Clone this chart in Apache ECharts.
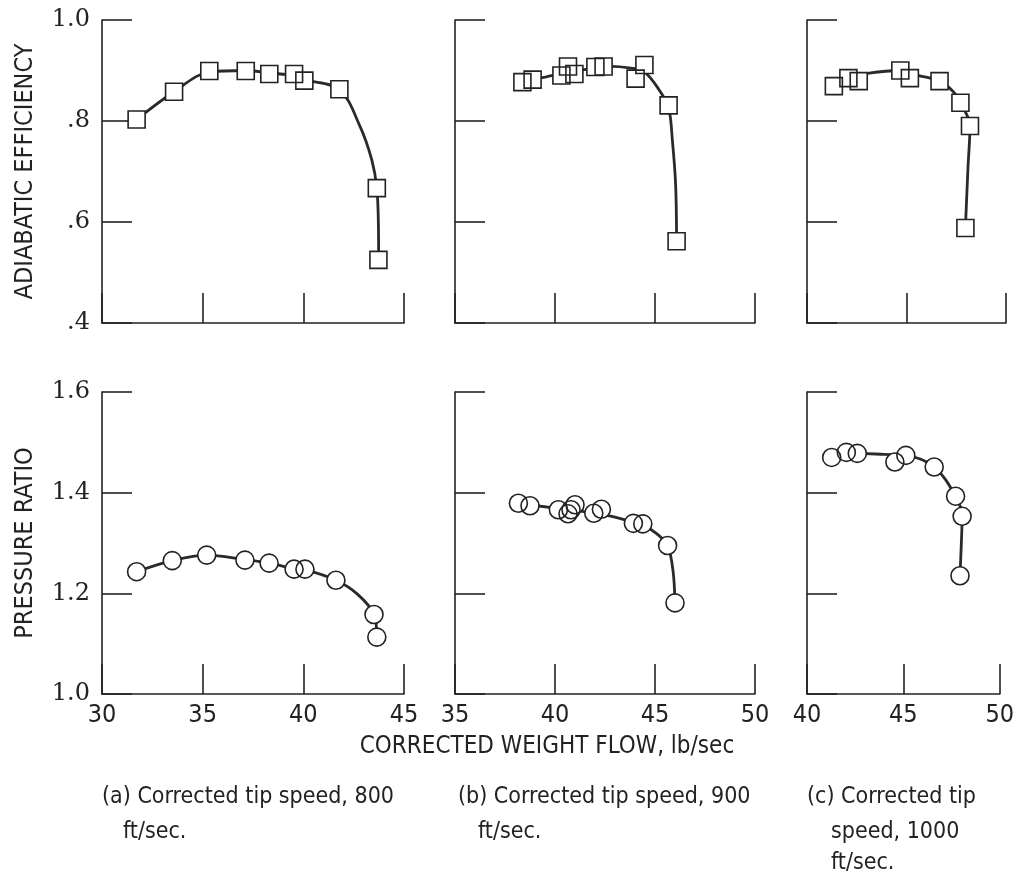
<!DOCTYPE html>
<html>
<head>
<meta charset="utf-8">
<script src="https://cdn.jsdelivr.net/npm/echarts@6/dist/echarts.min.js"></script>
<style>
html,body{margin:0;padding:0;background:#fff;}
#chart{width:1017px;height:877px;}
</style>
</head>
<body>
<div id="chart"></div>
<script>
// ---- measured points ----
const effAX = [31.72, 33.58, 35.33, 37.14, 38.31, 39.54, 40.05, 41.79, 43.65, 43.73];
const effAY = [0.803, 0.858, 0.899, 0.899, 0.893, 0.893, 0.880, 0.863, 0.667, 0.525];
const effBX = [38.37, 38.88, 40.32, 40.65, 40.97, 42.02, 42.43, 44.03, 44.47, 45.68, 46.08];
const effBY = [0.877, 0.882, 0.890, 0.908, 0.893, 0.907, 0.908, 0.884, 0.911, 0.831, 0.562];
const effCX = [41.35, 42.08, 42.60, 44.69, 45.17, 46.66, 47.71, 48.19, 47.96];
const effCY = [0.869, 0.885, 0.879, 0.900, 0.885, 0.879, 0.836, 0.790, 0.588];

const prAX = [31.72, 33.49, 35.20, 37.10, 38.30, 39.54, 40.08, 41.62, 43.51, 43.65];
const prAY = [1.243, 1.265, 1.276, 1.266, 1.260, 1.248, 1.248, 1.226, 1.158, 1.113];
const prBX = [38.17, 38.75, 40.17, 40.65, 40.80, 41.00, 41.94, 42.32, 43.92, 44.39, 45.63, 46.00];
const prBY = [1.379, 1.374, 1.366, 1.358, 1.366, 1.376, 1.359, 1.367, 1.339, 1.338, 1.295, 1.181];
const prCX = [41.28, 42.04, 42.61, 44.56, 45.13, 46.60, 47.71, 48.05, 47.94];
const prCY = [1.470, 1.480, 1.478, 1.461, 1.474, 1.451, 1.393, 1.353, 1.235];

// ---- faired curves ----
const curveEffAX = [31.72, 33.58, 35.33, 37.14, 38.31, 39.54, 40.05, 41.79, 42.82, 43.40, 43.65, 43.73, 43.74];
const curveEffAY = [0.803, 0.858, 0.897, 0.900, 0.895, 0.890, 0.882, 0.862, 0.789, 0.723, 0.667, 0.590, 0.525];
const curveEffBX = [38.37, 39.50, 40.80, 42.00, 42.83, 43.70, 44.45, 45.20, 45.68, 45.87, 46.03, 46.08];
const curveEffBY = [0.879, 0.887, 0.897, 0.905, 0.908, 0.905, 0.898, 0.862, 0.826, 0.761, 0.675, 0.562];
const curveEffCX = [41.35, 42.30, 43.13, 44.69, 45.61, 46.66, 47.33, 47.71, 48.19, 48.09, 47.96];
const curveEffCY = [0.872, 0.886, 0.895, 0.900, 0.890, 0.879, 0.859, 0.836, 0.790, 0.708, 0.588];

const curvePrAX = [31.72, 33.49, 35.20, 37.10, 38.30, 39.54, 40.08, 41.62, 42.70, 43.51, 43.65];
const curvePrAY = [1.243, 1.265, 1.276, 1.267, 1.260, 1.249, 1.247, 1.226, 1.198, 1.158, 1.113];
const curvePrBX = [38.17, 39.30, 40.50, 41.50, 42.50, 43.50, 44.39, 45.10, 45.63, 45.90, 46.00];
const curvePrBY = [1.379, 1.373, 1.367, 1.362, 1.356, 1.346, 1.336, 1.318, 1.295, 1.245, 1.181];
const curvePrCX = [41.28, 42.04, 42.61, 44.00, 45.13, 46.60, 47.71, 48.05, 48.00, 47.94];
const curvePrCY = [1.470, 1.478, 1.478, 1.476, 1.474, 1.451, 1.393, 1.353, 1.290, 1.235];

// ---- axes / ticks / text ----
const xRanges = [[30, 45], [35, 50], [40, 50]];
const effTicks = [0.4, 0.6, 0.8, 1.0];
const effTickLabels = ['.4', '.6', '.8', '1.0'];
const prTicks = [1.0, 1.2, 1.4, 1.6];
const prTickLabels = ['1.0', '1.2', '1.4', '1.6'];
const effTitle = 'ADIABATIC EFFICIENCY';
const prTitle = 'PRESSURE RATIO';
const xTitle = 'CORRECTED WEIGHT FLOW, lb/sec';
const captionLines = [
  ['(a) Corrected tip speed, 800', 'ft/sec.'],
  ['(b) Corrected tip speed, 900', 'ft/sec.'],
  ['(c) Corrected tip', 'speed, 1000', 'ft/sec.']
];

const INK = '#222';
const SANS = '"Liberation Sans Narrow", "DejaVu Sans Condensed", "Roboto Condensed", sans-serif';
const SERIF = '"DejaVu Serif", "Liberation Serif", serif';

function zip(xs, ys) { return xs.map((x, i) => [x, ys[i]]); }
function labelFor(ticks, labels) {
  return v => { for (let i = 0; i < ticks.length; i++) if (Math.abs(v - ticks[i]) < 1e-6) return labels[i]; return ''; };
}

const gridLefts = [102, 455, 807];
const gridWidths = [302, 300, 199];
const grids = [];
for (let r = 0; r < 2; r++) for (let c = 0; c < 3; c++) {
  grids.push({ left: gridLefts[c], width: gridWidths[c], top: r === 0 ? 20 : 392, height: r === 0 ? 303 : 302, containLabel: false });
}

const axisLineStyle = { color: INK, width: 1.6 };
const xAxes = [], yAxes = [];
for (let g = 0; g < 6; g++) {
  const r = Math.floor(g / 3), c = g % 3;
  xAxes.push({
    type: 'value', gridIndex: g, min: xRanges[c][0], max: xRanges[c][1], interval: 5,
    axisLine: { show: true, onZero: false, lineStyle: axisLineStyle },
    axisTick: { show: true, inside: true, length: 30, lineStyle: axisLineStyle },
    splitLine: { show: false },
    axisLabel: { show: r === 1, margin: 9, color: INK, fontSize: 25, fontFamily: SANS, showMinLabel: true, showMaxLabel: true }
  });
  const ticks = r === 0 ? effTicks : prTicks;
  const labels = r === 0 ? effTickLabels : prTickLabels;
  const y = {
    type: 'value', gridIndex: g, min: ticks[0], max: ticks[ticks.length - 1], interval: 0.2,
    axisLine: { show: true, onZero: false, lineStyle: axisLineStyle },
    axisTick: { show: true, inside: true, length: 30, lineStyle: axisLineStyle },
    splitLine: { show: false },
    axisLabel: { show: c === 0, margin: 12, color: INK, fontSize: 24, fontFamily: SERIF, showMinLabel: true, showMaxLabel: true, formatter: labelFor(ticks, labels) }
  };
  if (c === 0) {
    y.name = r === 0 ? effTitle : prTitle;
    y.nameLocation = 'middle';
    y.nameGap = 64;
    y.nameTextStyle = { color: INK, fontSize: 25, fontFamily: SANS };
  }
  yAxes.push(y);
}

const panels = [
  { pts: zip(effAX, effAY), curve: zip(curveEffAX, curveEffAY), sym: 'rect' },
  { pts: zip(effBX, effBY), curve: zip(curveEffBX, curveEffBY), sym: 'rect' },
  { pts: zip(effCX, effCY), curve: zip(curveEffCX, curveEffCY), sym: 'rect' },
  { pts: zip(prAX, prAY), curve: zip(curvePrAX, curvePrAY), sym: 'circle' },
  { pts: zip(prBX, prBY), curve: zip(curvePrBX, curvePrBY), sym: 'circle' },
  { pts: zip(prCX, prCY), curve: zip(curvePrCX, curvePrCY), sym: 'circle' }
];

const series = [];
panels.forEach((p, g) => {
  series.push({
    type: 'line', xAxisIndex: g, yAxisIndex: g, data: p.curve, smooth: 0.35,
    showSymbol: false, symbol: 'none', silent: true, animation: false, z: 2,
    lineStyle: { color: '#2a2a2a', width: 2.8 }
  });
  series.push({
    type: 'scatter', xAxisIndex: g, yAxisIndex: g, data: p.pts, symbol: p.sym,
    symbolSize: p.sym === 'rect' ? 17 : 18, silent: true, animation: false, z: 3,
    itemStyle: { color: '#fff', borderWidth: 0, opacity: 1 }
  });
  series.push({
    type: 'scatter', xAxisIndex: g, yAxisIndex: g, data: p.pts, symbol: p.sym,
    symbolSize: p.sym === 'rect' ? 17 : 18, silent: true, animation: false, z: 4,
    itemStyle: { color: 'rgba(0,0,0,0)', borderColor: INK, borderWidth: 1.6, opacity: 1 }
  });
});

const captionX = [[102, 123], [458, 478], [807, 831, 831]];
const captionY = [797, 832, 863];
const graphics = [];
graphics.push({ type: 'text', x: 547, y: 747, style: { text: xTitle, fill: INK, font: '24px ' + SANS, align: 'center', verticalAlign: 'middle' } });
captionLines.forEach((lines, c) => {
  lines.forEach((t, i) => {
    graphics.push({ type: 'text', x: captionX[c][i], y: captionY[i], style: { text: t, fill: INK, font: '23px ' + SANS, align: 'left', verticalAlign: 'middle' } });
  });
});

const chart = echarts.init(document.getElementById('chart'), null, { renderer: 'canvas' });
chart.setOption({
  backgroundColor: '#fff',
  animation: false,
  grid: grids,
  xAxis: xAxes,
  yAxis: yAxes,
  series: series,
  graphic: graphics
});
</script>
</body>
</html>
